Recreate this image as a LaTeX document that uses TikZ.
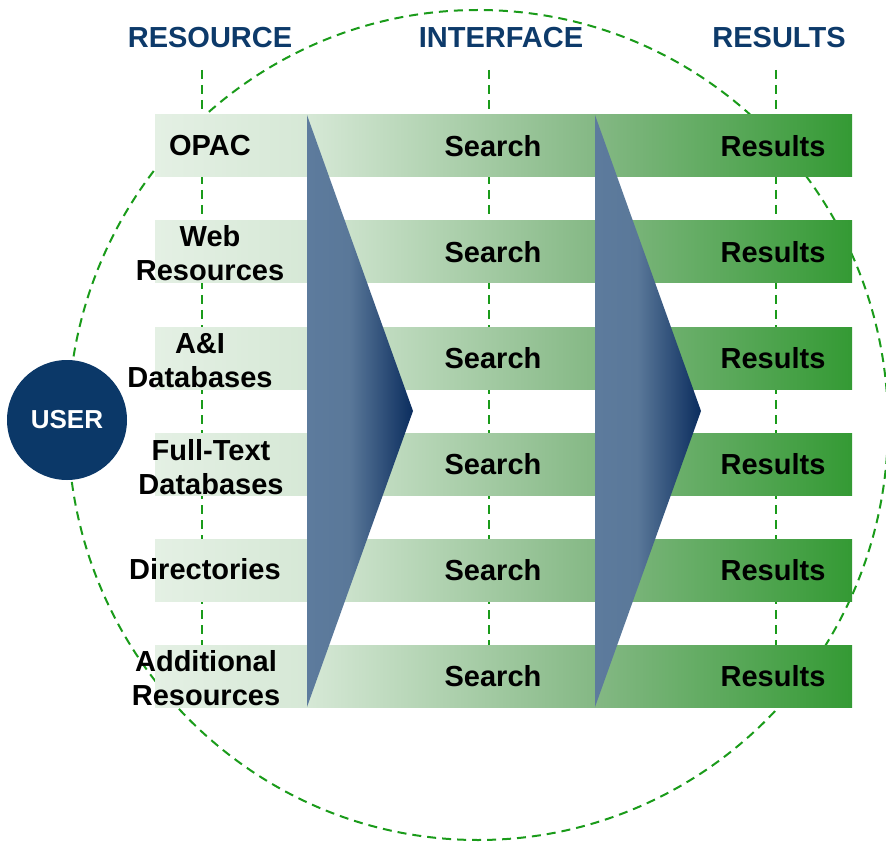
\documentclass[tikz,border=0pt]{standalone}
\usepackage{fontspec}
\setmainfont{Liberation Sans}
\usetikzlibrary{positioning}

\definecolor{navy}{HTML}{0B3868}
\definecolor{headblue}{HTML}{0D3A6A}
\definecolor{dashgreen}{HTML}{1A9B1A}
\definecolor{bandA}{HTML}{E4F0E4}
\definecolor{bandB}{HTML}{D6E8D6}
\definecolor{bandC}{HTML}{84B884}
\definecolor{bandD}{HTML}{349A34}
\definecolor{wedgeA}{HTML}{5D7B9D}
\definecolor{wedgeB}{HTML}{5A7899}
\definecolor{wedgeC}{HTML}{0B2D5E}

\pgfdeclarehorizontalshading{bandshade}{100bp}{color(0bp)=(bandA); color(25bp)=(bandA); color(35.9bp)=(bandB); color(56.6bp)=(bandC); color(75bp)=(bandD); color(100bp)=(bandD)}
\pgfdeclarehorizontalshading{wedgeshade}{100bp}{color(0bp)=(wedgeA); color(25bp)=(wedgeA); color(45bp)=(wedgeB); color(75bp)=(wedgeC); color(100bp)=(wedgeC)}

\begin{document}
\begin{tikzpicture}[x = 1pt, y = -1pt,
	band/.style = {rectangle, anchor = west, inner sep = 0pt, minimum width = 697pt, minimum height = 62pt, shading = bandshade},
	label/.style = {font = \fontsize{29}{34}\selectfont\bfseries, align = center, inner sep = 0pt},
	head/.style = {label, text = headblue},
	guide/.style = {dashgreen, line width = 2pt, dash pattern = on 9pt off 6pt}]

	\useasboundingbox (0, 0) rectangle (886, 842);

	% Dashed ring

	\draw [guide] (478, 425) ellipse [x radius = 410, y radius = 415];

	% Column guides

	\foreach \x in {202, 489, 776}
		\draw [guide] (\x, 70) -- (\x, 676);

	% Column heads

	\node [head] (resource) at (210, 38) {RESOURCE};
	\node [head] (interface) at (501, 38) {INTERFACE};
	\node [head] (results) at (779, 38) {RESULTS};

	% Bands w/search and results

	\foreach \i/\y in {1/146, 2/252, 3/358, 4/464, 5/570, 6/676}
	{
		\node [band] (band\i) at (155, \y) {};
		\node [label] (search\i) at (493, \y) {Search};
		\node [label] (result\i) at (773, \y) {Results};
	}

	% Wedges

	\foreach \x in {307, 595}
		\path [shading = wedgeshade] (\x, 115) -- (\x + 106, 411) -- (\x, 707) -- cycle;

	% Resources

	\node [label] (opac) at (210, 146) {OPAC};
	\node [label] (web) at (210, 253) {Web\\Resources};
	\node [label] (ai) at (200, 361) {A\&I\\Databases};
	\node [label] (fulltext) at (211, 467) {Full-Text\\Databases};
	\node [label] (directories) at (205, 569) {Directories};
	\node [label] (additional) at (206, 678) {Additional\\Resources};

	% User

	\node [circle, fill = navy, minimum size = 120pt, inner sep = 0pt, text = white, font = \fontsize{26}{30}\selectfont\bfseries] (user) at (67, 420) {USER};

\end{tikzpicture}
\end{document}
